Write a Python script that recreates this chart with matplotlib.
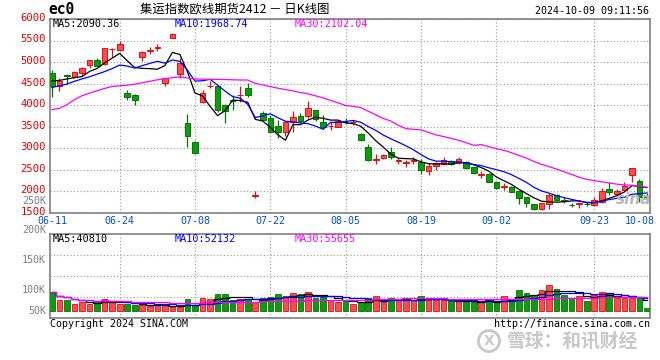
import numpy as np
import pandas as pd
import matplotlib
matplotlib.use('Agg')
import matplotlib.pyplot as plt
import matplotlib.transforms as mtransforms
from matplotlib.patches import Ellipse

# daily candles, 06-11 .. 10-09 (80 trading days)
opens = [4741, 4446, 4705, 4660, 4741, 4934, 5050, 4957, 5300, 5280,
         4290, 4240, 5115, 5260, 5335, 4520, 5570, 4725, 3595, 3155,
         4085, 4440, 4435, 4005, 4110, 4235, 4410, 1905, 3815, 3700,
         3520, 3370, 3620, 3750, 3760, 3890, 3605, 3515, 3505, 3612,
         3600, 3330, 3025, 2740, 2785, 2910, 2710, 2670, 2710, 2675,
         2485, 2580, 2640, 2705, 2655, 2690, 2560, 2380, 2400, 2210,
         2100, 2105, 2010, 1860, 1710, 1585, 1700, 1920, 1795, 1690,
         1715, 1705, 1685, 1750, 2050, 1940, 2040, 2380, 2245, 1890]
highs = [4818, 4620, 4710, 4795, 4880, 5060, 5103, 5330, 5325, 5500,
         4360, 4260, 5260, 5340, 5415, 4640, 5670, 5090, 3800, 3180,
         4350, 4555, 4470, 4030, 4240, 4435, 4520, 2010, 3860, 3770,
         3660, 3625, 3870, 3820, 4100, 3900, 3770, 3600, 3660, 3700,
         3660, 3345, 3090, 2870, 2860, 3025, 2785, 2730, 2795, 2745,
         2655, 2690, 2790, 2735, 2790, 2700, 2575, 2480, 2420, 2240,
         2200, 2120, 2030, 1880, 1720, 1740, 1960, 1940, 1860, 1725,
         1760, 1760, 1880, 2070, 2225, 2060, 2225, 2550, 2300, 1960]
lows = [4198, 4330, 4490, 4625, 4667, 4864, 4900, 4940, 5130, 5250,
        4130, 4000, 5020, 5190, 5260, 4440, 5560, 4625, 3040, 2880,
        4045, 4400, 3850, 3590, 3890, 4070, 4200, 1855, 3630, 3355,
        3240, 3280, 3370, 3590, 3710, 3640, 3450, 3420, 3485, 3560,
        3550, 3180, 2710, 2640, 2760, 2760, 2635, 2575, 2640, 2405,
        2380, 2505, 2610, 2620, 2640, 2520, 2400, 2320, 2210, 2060,
        2030, 1985, 1700, 1650, 1570, 1570, 1590, 1770, 1725, 1630,
        1610, 1665, 1665, 1730, 1920, 1920, 2030, 2225, 1760, 1820]
closes = [4446, 4570, 4670, 4765, 4864, 5050, 4910, 5320, 5315, 5413,
          4200, 4120, 5230, 5275, 5350, 4625, 5650, 4980, 3275, 2885,
          4285, 4450, 3890, 3865, 4095, 4245, 4240, 1918, 3660, 3375,
          3370, 3620, 3730, 3635, 3930, 3680, 3505, 3525, 3635, 3600,
          3610, 3195, 2730, 2750, 2845, 2810, 2720, 2680, 2720, 2500,
          2600, 2670, 2730, 2635, 2750, 2550, 2420, 2410, 2225, 2075,
          2115, 1995, 1840, 1725, 1585, 1725, 1920, 1800, 1780, 1680,
          1725, 1700, 1800, 2010, 1980, 2020, 2125, 2550, 1875, 1882]
# volume, thousands of lots
volumes = [73, 42, 42, 29, 33, 27, 33, 46, 33, 29,
           27, 25, 23, 20, 23, 23, 16, 16, 46, 23,
           51, 46, 65, 65, 42, 48, 46, 33, 51, 54,
           65, 57, 67, 65, 73, 51, 54, 42, 33, 38,
           27, 33, 51, 57, 33, 51, 42, 42, 42, 57,
           42, 42, 42, 38, 38, 35, 33, 33, 46, 33,
           57, 46, 80, 67, 61, 80, 99, 84, 63, 51,
           57, 38, 63, 73, 70, 51, 51, 51, 51, 13]

# moving averages before enough history is on the chart
ma5_head = [4560, 4575, 4610, 4640]
ma10_head = [4410, 4450, 4490, 4555, 4610, 4660, 4720, 4780, 4850]
ma30_head = [3895, 3930, 4010, 4130, 4220, 4280, 4335, 4390, 4435, 4450,
             4465, 4490, 4520, 4555, 4590, 4615, 4640, 4660, 4630, 4610,
             4605, 4600, 4600, 4595, 4590, 4585, 4585, 4510, 4470]

date_ticks = [0, 9, 19, 29, 39, 49, 59, 72, 78]
date_labels = ['06-11', '06-24', '07-08', '07-22', '08-05', '08-19', '09-02', '09-23', '10-08']
grid_days = [9, 19, 29, 39, 49, 59, 72]

plt.rcParams['font.family'] = ['DejaVu Sans Mono', 'Noto Sans CJK SC']

RED_F, RED_E = '#f45050', '#e01010'
GRN_F, GRN_E = '#119911', '#007700'
GRID = '#999999'
FRAME = '#808080'


def moving(values, n, head):
    m = pd.Series(values, dtype=float).rolling(n).mean().to_numpy()
    m[:len(head)] = head
    return m


o = np.array(opens, float)
c = np.array(closes, float)
x = np.arange(len(c))
up = c >= o
face = np.where(up, RED_F, GRN_F)
edge = np.where(up, RED_E, GRN_E)

W, H = 660, 360
fig = plt.figure(figsize=(6.6, 3.6), dpi=100)
ax = fig.add_axes([50 / W, 1 - 213 / H, 600 / W, 194 / H])
axv = fig.add_axes([50 / W, 1 - 318 / H, 600 / W, 84 / H])

# price panel
ax.vlines(x, lows, highs, colors=edge, lw=0.9, zorder=2)
ax.bar(x, np.abs(c - o), bottom=np.minimum(o, c), width=0.75,
       color=face, edgecolor=edge, lw=0.7, zorder=3)
ax.plot(x, moving(closes, 5, ma5_head), color='black', lw=0.9, zorder=4)
ax.plot(x, moving(closes, 10, ma10_head), color='#0000ff', lw=0.9, zorder=4)
ax.plot(x, moving(closes, 30, ma30_head), color='#ff00ff', lw=0.9, zorder=4)

ax.set_ylim(1500, 6000)
ax.set_xlim(-0.25, 79.4)
ax.set_yticks(range(1500, 6001, 500))
ax.set_xticks(date_ticks, date_labels)
ax.tick_params(axis='y', length=0, pad=3, labelcolor='#e00000', labelsize=7.6)
ax.tick_params(axis='x', length=0, pad=2.5, labelcolor='#0050d0', labelsize=7.2)
ax.grid(axis='y', color=GRID, lw=0.8, ls=(0, (1, 2)))
# price labels sit a little above their grid lines
lift = mtransforms.ScaledTranslation(0, 1.5 / 72, fig.dpi_scale_trans)
for lab in ax.get_yticklabels():
    lab.set_transform(lab.get_transform() + lift)

# volume panel
vol = np.array(volumes, float)
axv.bar(x, vol, width=0.75, color=face, edgecolor=edge, lw=0.6, zorder=3)
for n, col in [(5, 'black'), (10, '#0000ff'), (30, '#ff00ff')]:
    m = pd.Series(vol).rolling(n, min_periods=1).mean()
    axv.plot(x, m, color=col, lw=0.9, drawstyle='steps-mid', zorder=4)
axv.set_xlim(-0.25, 79.4)
lo, hi = -25.5, 291.5
axv.set_ylim(lo, hi)
axv.set_yticks(np.linspace(lo, hi, 5)[1:-1])
axv.set_xticks([])
axv.tick_params(axis='y', length=0, labelleft=False)
axv.grid(axis='y', color=GRID, lw=0.8, ls=(0, (1, 2)))

for a in (ax, axv):
    for d in grid_days:
        a.axvline(d, color=GRID, lw=0.8, ls=(0, (1, 2)), zorder=1)
    for s in a.spines.values():
        s.set_color(FRAME)
        s.set_linewidth(1.2)
    a.set_axisbelow(True)


def px(xp, yp, s, **kw):
    fig.text(xp / W, 1 - yp / H, s, va='center', **kw)


px(48, 10, 'ec0', size=10.5, weight='bold')
px(140, 9, '集运指数欧线期货2412 － 日K线图', size=8.9, family=['Noto Sans CJK SC'])
px(649, 11.5, '2024-10-09 09:11:56', size=7.2, ha='right')

px(53, 24, 'MA5:2090.36', size=7.3, color='black')
px(175, 24, 'MA10:1968.74', size=7.3, color='#0000ff')
px(295, 24, 'MA30:2102.04', size=7.3, color='#ff00ff')

px(53, 239, 'MA5:40810', size=7.3, color='black')
px(175, 239, 'MA10:52132', size=7.3, color='#0000ff')
px(295, 239, 'MA30:55655', size=7.3, color='#ff00ff')

for yp, s in [(201, '250K'), (230, '200K'), (260, '150K'), (290, '100K'), (311, '50K')]:
    px(46, yp, s, size=7.2, color='#808080', ha='right')

px(50, 324, 'Copyright 2024 SINA.COM', size=7.2)
px(650, 324, 'http://finance.sina.com.cn', size=7.2, ha='right')

px(634, 199, 'sina', size=11, color='#b8b8b8', style='italic', weight='bold',
   ha='center', family=['DejaVu Sans'])
px(572, 341, '雪球：和讯财经', size=13.5, color='#c8c8c8', weight='bold',
   ha='center', family=['Noto Sans CJK SC'])
fig.patches.append(Ellipse((489 / W, 1 - 341 / H), 21 / W, 21 / H, transform=fig.transFigure,
                           fill=False, edgecolor='#c8c8c8', lw=2))
px(489, 341, 'X', size=10, color='#c8c8c8', ha='center', weight='bold', family=['DejaVu Sans'])

fig.savefig('out.png', dpi=100)
